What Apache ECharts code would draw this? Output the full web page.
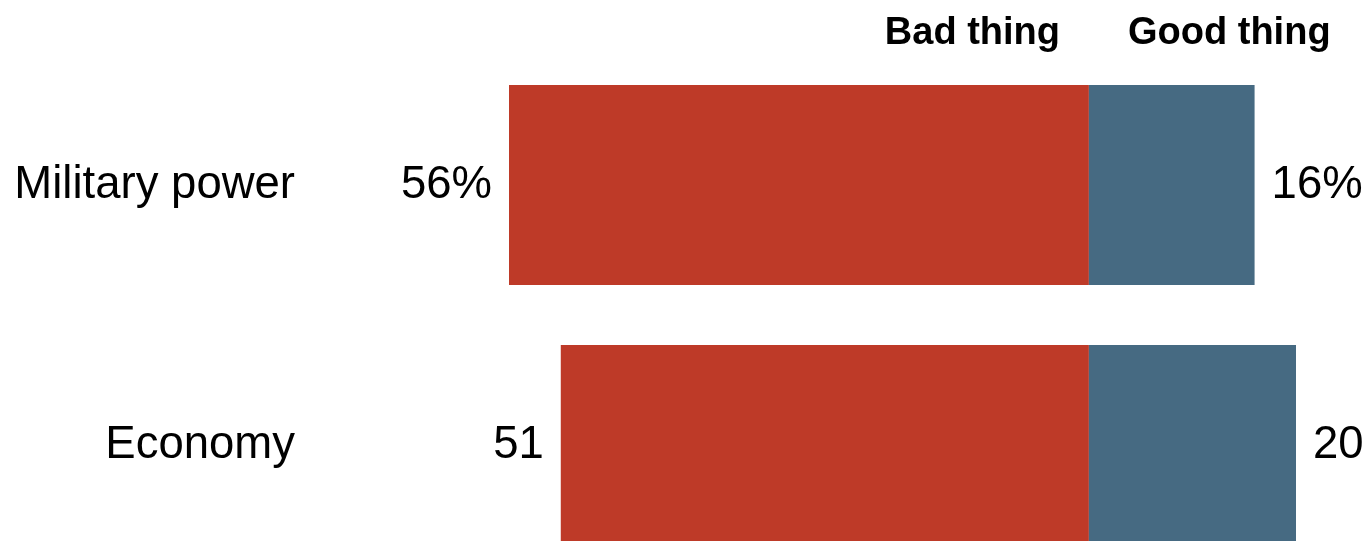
<!DOCTYPE html>
<html>
<head>
<meta charset="utf-8">
<script src="https://cdn.jsdelivr.net/npm/echarts@6/dist/echarts.min.js"></script>
<style>html,body{margin:0;padding:0;background:#fff;overflow:hidden;}#c{width:1372px;height:575px;}</style>
</head>
<body>
<div id="c"></div>
<script>
const categories = ['Military power', 'Economy'];
const badThing = [56, 51];
const goodThing = [16, 20];
const seriesNames = ['Bad thing', 'Good thing'];

const chart = echarts.init(document.getElementById('c'));
const FONT = '"Liberation Sans", Arial, sans-serif';
chart.setOption({
  animation: false,
  grid: { left: 509, right: 76, top: 55, bottom: 0, containLabel: false },
  xAxis: { type: 'value', min: -56, max: 20, show: false },
  yAxis: {
    type: 'category', data: categories, inverse: true,
    axisLine: { show: false }, axisTick: { show: false }, splitLine: { show: false },
    axisLabel: { margin: 214, fontSize: 45.5, color: '#000', fontFamily: FONT, padding: [7, 0, 0, 0] }
  },
  series: [
    {
      name: seriesNames[0], type: 'bar', stack: 'a', barWidth: 200,
      data: badThing.map(v => -v),
      itemStyle: { color: '#BE3A28' },
      label: { show: true, position: 'left', distance: 17, fontSize: 45.5, color: '#000', fontFamily: FONT,
        padding: [7, 0, 0, 0],
        formatter: p => Math.abs(p.value) + (p.dataIndex === 0 ? '%' : '') }
    },
    {
      name: seriesNames[1], type: 'bar', stack: 'a', barWidth: 200,
      data: goodThing,
      itemStyle: { color: '#466A82' },
      label: { show: true, position: 'right', distance: 17, fontSize: 45.5, color: '#000', fontFamily: FONT,
        padding: [7, 0, 0, 0],
        formatter: p => p.value + (p.dataIndex === 0 ? '%' : '') }
    }
  ],
  graphic: [
    { type: 'text', right: 1372 - 1060, top: 15, style: { text: seriesNames[0], font: 'bold 38px ' + FONT, fill: '#000' } },
    { type: 'text', left: 1128, top: 15, style: { text: seriesNames[1], font: 'bold 38px ' + FONT, fill: '#000' } }
  ]
});
</script>
</body>
</html>
